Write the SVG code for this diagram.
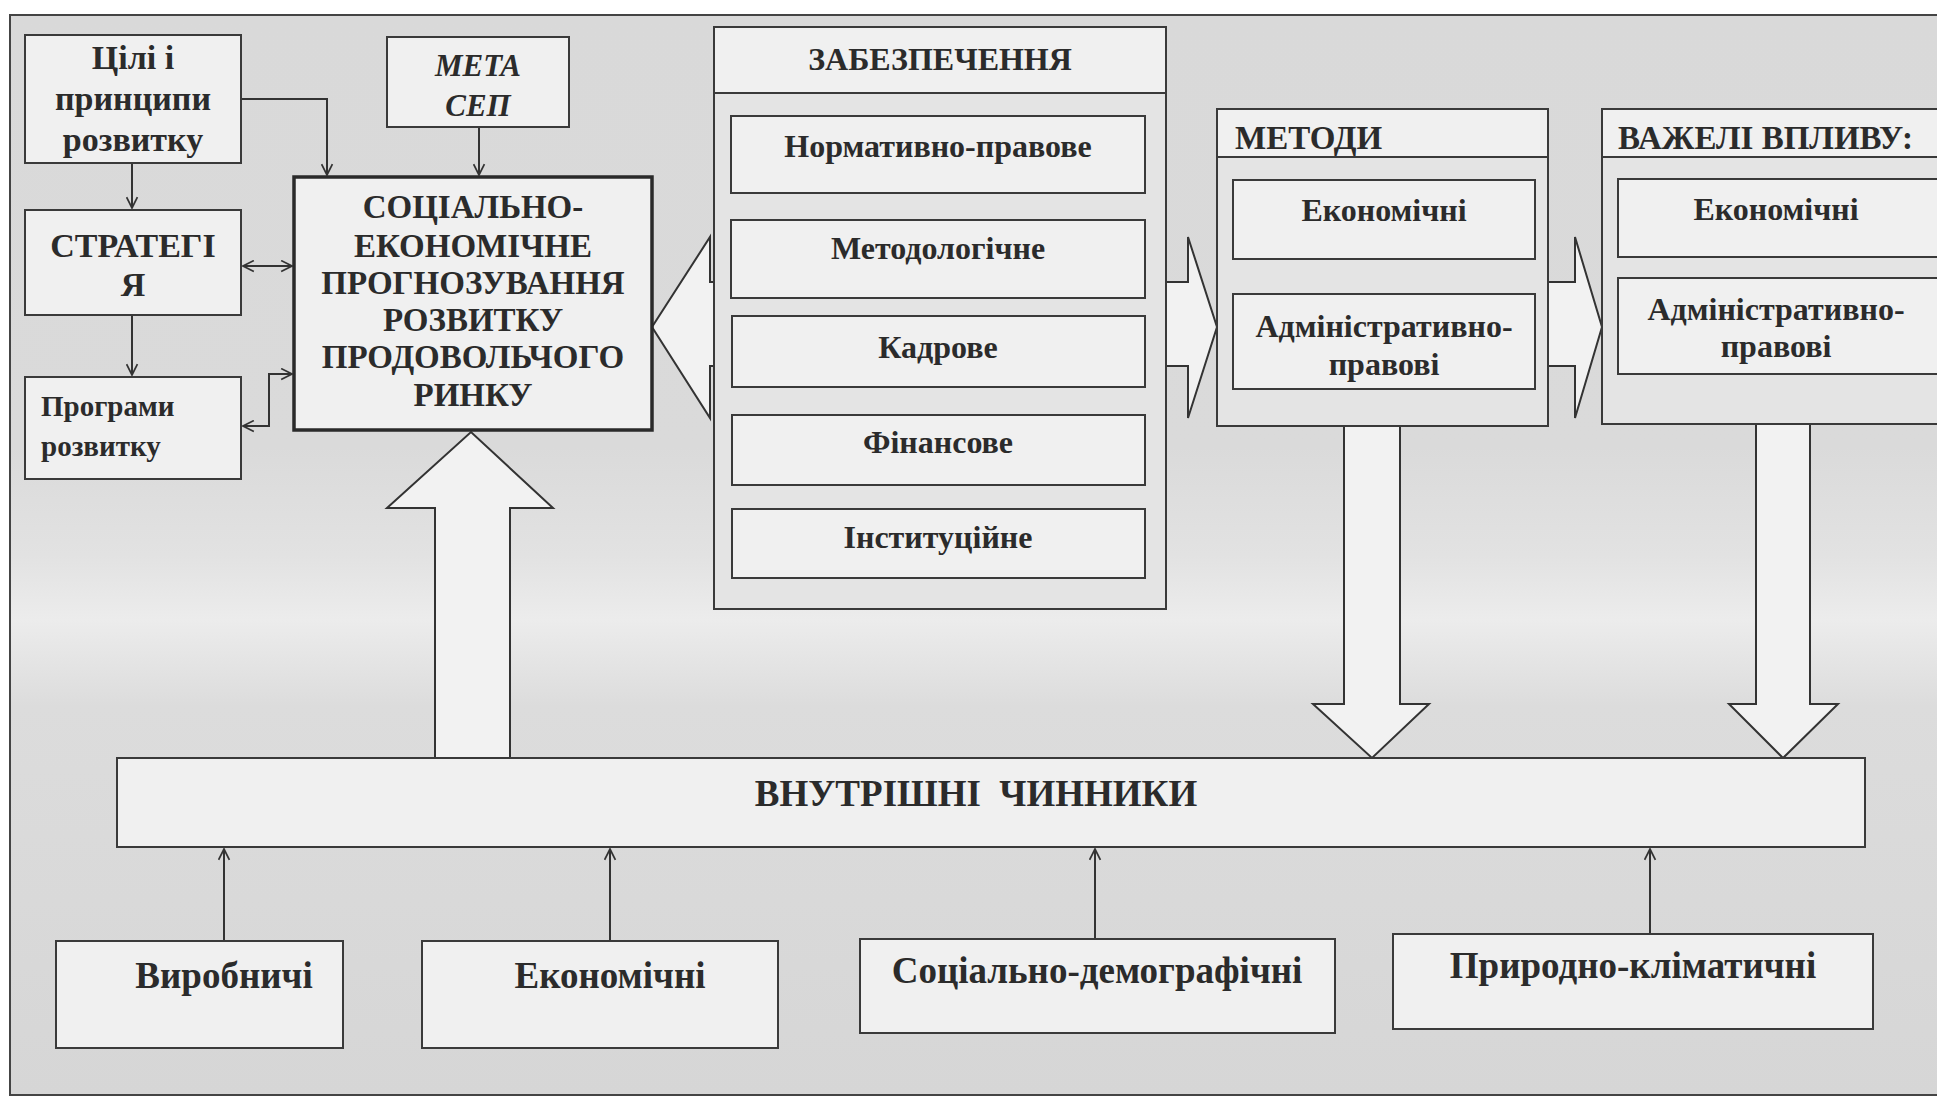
<svg xmlns="http://www.w3.org/2000/svg" width="1937" height="1100" viewBox="0 0 1937 1100">
<defs>
<linearGradient id="bg" x1="0" y1="0" x2="0" y2="1">
<stop offset="0" stop-color="#d9d9d9"/>
<stop offset="0.4" stop-color="#dadada"/>
<stop offset="0.5" stop-color="#e2e2e2"/>
<stop offset="0.56" stop-color="#ececec"/>
<stop offset="0.64" stop-color="#dcdcdc"/>
<stop offset="1" stop-color="#d6d6d6"/>
</linearGradient>
<marker id="ah" viewBox="0 0 12 12" refX="11" refY="6" markerWidth="13" markerHeight="13" markerUnits="userSpaceOnUse" orient="auto-start-reverse">
<path d="M1,1 L11,6 L1,11" fill="none" stroke="#333" stroke-width="1.6"/>
</marker>
<style>
.box{fill:#f0f0f0;stroke:#3a3a3a;stroke-width:2}
.main{fill:#f0f0f0;stroke:#2a2a2a;stroke-width:3.5}
.panel{fill:#e4e4e4;stroke:#3a3a3a;stroke-width:2}
.blk{fill:#f2f2f2;stroke:#333;stroke-width:2;stroke-linejoin:miter}
.ln{fill:none;stroke:#333;stroke-width:2}
.t{font-family:"Liberation Serif","Times New Roman",serif;font-weight:bold;font-size:32px;fill:#2b2b2b;text-anchor:middle}
.tl{text-anchor:start}
.it{font-style:italic;font-size:31px}
.s34{font-size:34px}
.s29{font-size:29px}
.s33{font-size:33px}
.big{font-size:37px}
</style>
</defs>
<rect x="0" y="0" width="1937" height="1100" fill="#ffffff"/>
<rect x="10" y="15" width="1940" height="1080" fill="url(#bg)" stroke="#444" stroke-width="2"/>

<g id="connectors">
<path class="ln" d="M241,99 H327 V175" marker-end="url(#ah)"/>
<path class="ln" d="M479,127 V175" marker-end="url(#ah)"/>
<path class="ln" d="M132,163 V208" marker-end="url(#ah)"/>
<path class="ln" d="M132,315 V375" marker-end="url(#ah)"/>
<path class="ln" d="M243,266 H292" marker-start="url(#ah)" marker-end="url(#ah)"/>
<path class="ln" d="M292,374 H269 V426 H243" marker-start="url(#ah)" marker-end="url(#ah)"/>
<path class="ln" d="M224,941 V849" marker-end="url(#ah)"/>
<path class="ln" d="M610,941 V849" marker-end="url(#ah)"/>
<path class="ln" d="M1095,939 V849" marker-end="url(#ah)"/>
<path class="ln" d="M1650,934 V849" marker-end="url(#ah)"/>
<path id="up-arrow" class="blk" d="M435,758 V508 H387 L471,432 L553,508 H510 V758"/>
<path id="dbl-arrow" class="blk" d="M652,327 L710,237 V282 H1188 V237 L1217,327 L1188,418 V366 H710 V418 Z"/>
<path id="arrow-m-v" class="blk" d="M1548,282 H1575 V237 L1602,327 L1575,418 V366 H1548"/>
<path id="down-m" class="blk" d="M1344,426 V704 H1313 L1372,758 L1429,704 H1400 V426"/>
<path id="down-v" class="blk" d="M1756,424 V704 H1729 L1783,758 L1838,704 H1810 V424"/>
</g>

<g id="n-cili"><rect class="box" x="25" y="35" width="216" height="128"/>
<text class="t s34" x="133" y="69">Цілі і</text><text class="t s34" x="133" y="110">принципи</text><text class="t s34" x="133" y="151">розвитку</text></g>

<g id="n-meta"><rect class="box" x="387" y="37" width="182" height="90"/>
<text class="t it" x="478" y="76">МЕТА</text><text class="t it" x="478" y="116">СЕП</text></g>

<g id="n-strat"><rect class="box" x="25" y="210" width="216" height="105"/>
<text class="t s34" x="133" y="257">СТРАТЕГІ</text><text class="t s34" x="133" y="296">Я</text></g>

<g id="n-prog"><rect class="box" x="25" y="377" width="216" height="102"/>
<text class="t tl s29" x="41" y="416">Програми</text><text class="t tl s29" x="41" y="456">розвитку</text></g>

<g id="n-main"><rect class="main" x="294" y="177" width="358" height="253"/>
<text class="t s33" x="473" y="218">СОЦІАЛЬНО-</text>
<text class="t s33" x="473" y="257">ЕКОНОМІЧНЕ</text>
<text class="t s33" x="473" y="294">ПРОГНОЗУВАННЯ</text>
<text class="t s33" x="473" y="331">РОЗВИТКУ</text>
<text class="t s33" x="473" y="368">ПРОДОВОЛЬЧОГО</text>
<text class="t s33" x="473" y="406">РИНКУ</text></g>

<g id="n-zab">
<rect class="panel" x="714" y="27" width="452" height="582"/>
<rect class="box" x="714" y="27" width="452" height="66"/>
<text class="t" x="940" y="70">ЗАБЕЗПЕЧЕННЯ</text>
<rect class="box" x="731" y="116" width="414" height="77"/><text class="t" x="938" y="157">Нормативно-правове</text>
<rect class="box" x="731" y="220" width="414" height="78"/><text class="t" x="938" y="259">Методологічне</text>
<rect class="box" x="732" y="316" width="413" height="71"/><text class="t" x="938" y="358">Кадрове</text>
<rect class="box" x="732" y="415" width="413" height="70"/><text class="t" x="938" y="453">Фінансове</text>
<rect class="box" x="732" y="509" width="413" height="69"/><text class="t" x="938" y="548">Інституційне</text>
</g>

<g id="n-metody">
<rect class="panel" x="1217" y="109" width="331" height="317"/>
<rect class="box" x="1217" y="109" width="331" height="48"/>
<text class="t tl s33" x="1235" y="149">МЕТОДИ</text>
<rect class="box" x="1233" y="180" width="302" height="79"/><text class="t" x="1384" y="221">Економічні</text>
<rect class="box" x="1233" y="294" width="302" height="95"/><text class="t" x="1384" y="337">Адміністративно-</text><text class="t" x="1384" y="375">правові</text>
</g>

<g id="n-vazheli">
<rect class="panel" x="1602" y="109" width="345" height="315"/>
<rect class="box" x="1602" y="109" width="345" height="48"/>
<text class="t tl s33" x="1618" y="149">ВАЖЕЛІ ВПЛИВУ:</text>
<rect class="box" x="1618" y="179" width="329" height="78"/><text class="t" x="1776" y="220">Економічні</text>
<rect class="box" x="1618" y="278" width="329" height="96"/><text class="t" x="1776" y="320">Адміністративно-</text><text class="t" x="1776" y="357">правові</text>
</g>

<g id="n-vnutr"><rect class="box" x="117" y="758" width="1748" height="89"/>
<text class="t big" x="976" y="806" xml:space="preserve">ВНУТРІШНІ  ЧИННИКИ</text></g>

<g id="n-vyrob"><rect class="box" x="56" y="941" width="287" height="107"/><text class="t big" x="224" y="988">Виробничі</text></g>
<g id="n-ekon"><rect class="box" x="422" y="941" width="356" height="107"/><text class="t big" x="610" y="988">Економічні</text></g>
<g id="n-soc"><rect class="box" x="860" y="939" width="475" height="94"/><text class="t big" x="1097" y="983">Соціально-демографічні</text></g>
<g id="n-pryr"><rect class="box" x="1393" y="934" width="480" height="95"/><text class="t big" x="1633" y="978">Природно-кліматичні</text></g>
</svg>
